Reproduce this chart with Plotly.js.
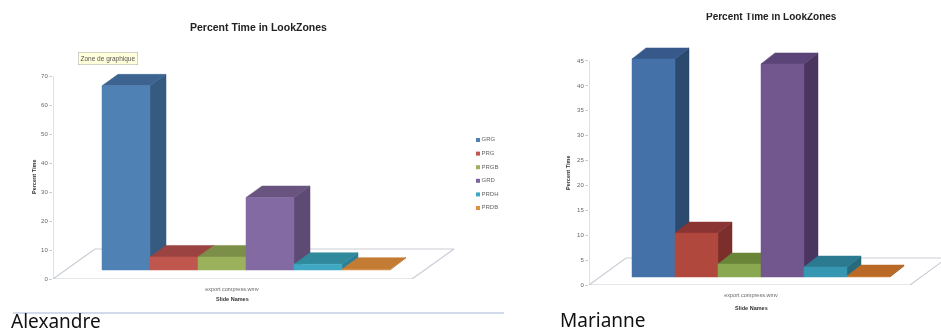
<!DOCTYPE html>
<html><head><meta charset="utf-8">
<script src="https://cdn.plot.ly/plotly-3.0.1.min.js"></script>
<style>
html,body{margin:0;padding:0;background:#fff;overflow:hidden}
#wrap{position:relative;width:941px;height:334px}
#plot{width:941px;height:334px;filter:blur(0.6px)}
#cut{position:absolute;left:600px;top:0;width:341px;height:13px;background:#fff}
</style></head><body><div id="wrap"><div id="plot"></div><div id="cut"></div></div>
<script>
// ---- data ----
const seriesNames = ['GRG','PRG','PRGB','GRD','PRDH','PRDB'];
const alexandreValues = [63.5, 4.5, 4.5, 25, 2, 0.3];
const marianneValues = [43.7, 8.8, 2.6, 42.7, 2, 0.2];
const alexandreTicks = [0,10,20,30,40,50,60,70];
const marianneTicks = [0,5,10,15,20,25,30,35,40,45];
const sliceLabel = 'export compress.wmv';
const chartTitle = 'Percent Time in LookZones';
const xTitle = 'Slide Names';
const yTitle = 'Percent Time';
const personLeft = 'Alexandre';
const personRight = 'Marianne';
const tooltipText = 'Zone de graphique';

// ---- style ----
const W = 941, H = 334;
const leftFront  = ['#4f81b5','#c0574f','#9bb15c','#836aa2','#3fa8c4','#d08a40'];
const leftSide   = ['#375a80','#8a3a36','#6f8440','#5d4a75','#2c7f95','#a8682a'];
const leftTop    = ['#3d6491','#9b4340','#7c8f48','#69547f','#318a9c','#c47c34'];
const rightFront = ['#4472a8','#b0483e','#8aa84f','#72578f','#3797b2','#c87a30'];
const rightSide  = ['#2c4a6e','#7b2e2a','#5c7a30','#4a3560','#266a7d','#95521c'];
const rightTop   = ['#36588a','#8a3433','#6a8438','#5a4478','#2c7a90','#b86a26'];
const legendColors = ['#4f81b5','#c0574f','#9bb15c','#7a64a0','#3fa8c4','#e0913f'];

const panels = [
 {ax:'', vals:alexandreValues, ticks:alexandreTicks, yMax:71, unit:2.9, y0:279,
  pxL:53, pxR:470, barL:102, barW:48, dxPx:16, dyPx:11.5, basePx:9,
  floorFrontR:412, floorDx:42, floorDy:30, tickMax:70,
  front:leftFront, side:leftSide, topc:leftTop, tick:232, xTitleY:299, yTitleX:34, yTitleY:177},
 {ax:'2', vals:marianneValues, ticks:marianneTicks, yMax:48, unit:4.99, y0:285,
  pxL:589, pxR:941, barL:632, barW:43, dxPx:14, dyPx:11, basePx:8,
  floorFrontR:910, floorDx:37, floorDy:27, tickMax:45,
  front:rightFront, side:rightSide, topc:rightTop, tick:751, xTitleY:308, yTitleX:568, yTitleY:173}
];

const traces = [];
const layout = {
  width:W, height:H, margin:{l:0,r:0,t:0,b:0}, showlegend:false,
  paper_bgcolor:'#fff', plot_bgcolor:'rgba(0,0,0,0)', hovermode:false,
  font:{family:'"Liberation Sans", Arial, sans-serif', size:6, color:'#555'},
  annotations:[], shapes:[]
};
const note=(text,xpx,ypx,font,extra)=>layout.annotations.push(Object.assign({
  text, xref:'paper', yref:'paper', x:xpx/W, y:1-ypx/H, showarrow:false,
  xanchor:'center', yanchor:'middle', font}, extra||{}));

panels.forEach(p=>{
  const xa = 'x'+p.ax, ya = 'y'+p.ax;
  const toX = px => (px-p.barL)/p.barW - 0.5;
  const dx = p.dxPx/p.barW, dy = p.dyPx/p.unit, base = p.basePx/p.unit;
  const fdx = p.floorDx/p.barW, fdy = p.floorDy/p.unit;
  const xL = toX(p.pxL), xR = toX(p.pxR), xF = toX(p.floorFrontR);
  const common = {xaxis:xa, yaxis:ya, hoverinfo:'skip', showlegend:false};
  traces.push(Object.assign({type:'scatter',mode:'lines',
    x:[xL,xF,xF+fdx,xL+fdx,xL], y:[0,0,fdy,fdy,0],
    line:{color:'#c9cdd6',width:1.2}}, common));
  traces.push(Object.assign({type:'scatter',mode:'lines',
    x:[xL,xL], y:[0,p.tickMax], line:{color:'#c9cdd6',width:1.2}}, common));
  p.vals.forEach((v,i)=>{
    const l=i-0.5, r=i+0.5, t=base+v;
    const poly=(xs,ys,c,name)=>traces.push(Object.assign({type:'scatter',mode:'lines',
      x:xs.concat(xs[0]), y:ys.concat(ys[0]), fill:'toself', fillcolor:c,
      line:{color:c,width:0.5}, name:name}, common));
    poly([r,r+dx,r+dx,r],[base,base+dy,t+dy,t],p.side[i],seriesNames[i]);
    poly([l,r,r+dx,l+dx],[t,t,t+dy,t+dy],p.topc[i],seriesNames[i]);
    poly([l,r,r,l],[base,base,t,t],p.front[i],seriesNames[i]);
  });
  const id = p.ax;
  layout['xaxis'+id] = {domain:[p.pxL/W,p.pxR/W], range:[xL,xR], anchor:ya,
    showgrid:false, zeroline:false, showline:false, ticks:'',
    tickmode:'array', tickvals:[toX(p.tick)], ticktext:[sliceLabel],
    tickfont:{size:5.5,color:'#666'}, ticklabelstandoff:5};
  layout['yaxis'+id] = {domain:[(H-p.y0)/H,(H-p.y0+p.yMax*p.unit)/H], range:[0,p.yMax], anchor:xa,
    showgrid:false, zeroline:false, showline:false,
    tickmode:'array', tickvals:p.ticks, ticktext:p.ticks.map(String),
    ticks:'outside', ticklen:3, tickcolor:'#c9cdd6', tickwidth:1,
    tickfont:{size:6,color:'#666'}};
  note('<b>'+xTitle+'</b>',p.tick,p.xTitleY,{size:5.5,color:'#333'});
  note('<b>'+yTitle+'</b>',p.yTitleX,p.yTitleY,{size:5.5,color:'#333'},{textangle:-90});
});

// legend drawn through a hidden axis pair
layout.xaxis3 = {domain:[470/W,520/W], range:[0,50], visible:false, anchor:'y3', fixedrange:true};
layout.yaxis3 = {domain:[(H-221.6)/H,(H-126.4)/H], range:[seriesNames.length,-1], visible:false, anchor:'x3', fixedrange:true};
traces.push({type:'scatter',mode:'markers+text',xaxis:'x3',yaxis:'y3',hoverinfo:'skip',showlegend:false,
  x:seriesNames.map(()=>8), y:seriesNames.map((_,i)=>i), text:seriesNames,
  textposition:'middle right', textfont:{size:6,color:'#666'},
  marker:{symbol:'square',size:4,color:legendColors}, cliponaxis:false});

note('<b>'+chartTitle+'</b>',258,27,{size:10.5,color:'#222'});
note('<b>'+chartTitle+'</b>',771,16.5,{size:10,color:'#222'});
note(tooltipText,108,58,{size:6.5,color:'#555'},{bgcolor:'#ffffdc',bordercolor:'#aaa',borderwidth:0.5,borderpad:2});
note(personLeft,9,320.5,{size:19,color:'#111',family:'"Noto Sans", sans-serif'},{xanchor:'left'});
note(personRight,558,320,{size:19,color:'#111',family:'"Noto Sans", sans-serif'},{xanchor:'left'});
layout.shapes.push({type:'line',xref:'paper',yref:'paper',x0:13/W,x1:504/W,y0:1-313/H,y1:1-313/H,
  line:{color:'#a5b5d8',width:1}});

Plotly.newPlot('plot',traces,layout,{staticPlot:true,displayModeBar:false});
</script></body></html>
